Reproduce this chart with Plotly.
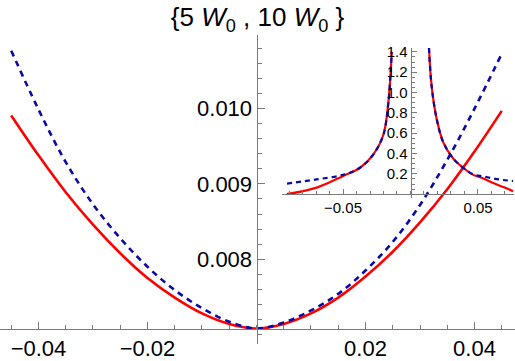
import plotly.graph_objects as go

# ---------------- main plot data ----------------
main_x = [-0.045, -0.04, -0.035, -0.03, -0.025, -0.02, -0.015, -0.01, -0.005, 0.0,
          0.005, 0.01, 0.015, 0.02, 0.025, 0.03, 0.035, 0.04, 0.045]
red_y = [0.00991, 0.00938, 0.00889, 0.00846, 0.00808, 0.00775, 0.00749, 0.00728, 0.00714, 0.00708,
         0.00714, 0.00728, 0.00749, 0.00777, 0.00810, 0.00849, 0.00893, 0.00943, 0.00997]
blue_y = [0.01077, 0.00999, 0.00929, 0.00873, 0.00828, 0.00790, 0.00759, 0.00735, 0.00717, 0.00708,
          0.00716, 0.00732, 0.00754, 0.00785, 0.00823, 0.00872, 0.00932, 0.01000, 0.01073]

main_xticks = [-0.04, -0.02, 0.02, 0.04]
main_xtext = ["\u22120.04", "\u22120.02", "0.02", "0.04"]
main_yticks = [0.008, 0.009, 0.010]
main_ytext = ["0.008", "0.009", "0.010"]

# ---------------- inset data ----------------
in_red_left_x = [-0.0917, -0.0695, -0.0498, -0.0374, -0.0276, -0.0202, -0.0164, -0.0139]
in_red_left_y = [0.0, 0.065, 0.18, 0.26, 0.39, 0.58, 0.90, 1.40]
in_red_right_x = [0.0137, 0.0157, 0.0194, 0.0243, 0.0317, 0.039, 0.0465, 0.054, 0.0613, 0.0688, 0.076]
in_red_right_y = [1.44, 1.06, 0.74, 0.51, 0.35, 0.26, 0.19, 0.155, 0.11, 0.07, 0.03]

in_blue_left_x = [-0.0915, -0.0695, -0.05, -0.0374, -0.0276, -0.0202, -0.0164, -0.0139]
in_blue_left_y = [0.105, 0.146, 0.19, 0.26, 0.39, 0.58, 0.90, 1.40]
in_blue_right_x = [0.0137, 0.0157, 0.0194, 0.0243, 0.0317, 0.039, 0.0465, 0.054, 0.0613, 0.0688, 0.076]
in_blue_right_y = [1.44, 1.06, 0.74, 0.51, 0.35, 0.26, 0.195, 0.175, 0.155, 0.14, 0.13]

inset_xticks = [-0.05, 0.05]
inset_xtext = ["\u22120.05", "0.05"]
inset_yticks = [0.2, 0.4, 0.6, 0.8, 1.0, 1.2, 1.4]
inset_ytext = ["0.2", "0.4", "0.6", "0.8", "1.0", "1.2", "1.4"]

RED = "#FF0000"
BLUE = "#0A0AA5"
AXC = "#7a7a7a"
FONT = "Liberation Sans, Arial, Helvetica, sans-serif"

fig = go.Figure()

# main curves
fig.add_trace(go.Scatter(x=main_x, y=red_y, mode="lines",
                         line=dict(color=RED, width=2.6, shape="spline", smoothing=1.0),
                         xaxis="x", yaxis="y"))
fig.add_trace(go.Scatter(x=main_x, y=blue_y, mode="lines",
                         line=dict(color=BLUE, width=2.6, dash="6px,5px", shape="spline", smoothing=1.0),
                         xaxis="x", yaxis="y"))

# inset curves
fig.add_trace(go.Scatter(x=in_red_left_x + [None] + in_red_right_x,
                         y=in_red_left_y + [None] + in_red_right_y,
                         mode="lines", line=dict(color=RED, width=2.2, shape="spline"),
                         connectgaps=False, xaxis="x2", yaxis="y2"))
fig.add_trace(go.Scatter(x=in_blue_left_x + [None] + in_blue_right_x,
                         y=in_blue_left_y + [None] + in_blue_right_y,
                         mode="lines", line=dict(color=BLUE, width=2.2, dash="5px,4px", shape="spline"),
                         connectgaps=False, xaxis="x2", yaxis="y2"))

W, H = 515, 361

def common(fsize):
    return dict(showgrid=False, zeroline=False, showline=True, linecolor=AXC, linewidth=1,
                ticks="inside", tickcolor=AXC, tickwidth=1,
                tickfont=dict(family=FONT, size=fsize, color="black"))

fig.update_layout(
    width=W, height=H,
    margin=dict(l=0, r=0, t=0, b=0),
    paper_bgcolor="white", plot_bgcolor="rgba(0,0,0,0)",
    showlegend=False,
    font=dict(family=FONT, color="black"),
    title=dict(text="{5 <i>W</i><sub>0</sub> , 10 <i>W</i><sub>0</sub> }",
               x=0.5, xanchor="center", y=1 - 17 / H, yanchor="middle",
               font=dict(family=FONT, size=26, color="black")),
    xaxis=dict(domain=[0, 1], range=[-0.04706, 0.04743], anchor="free", position=(H - 331) / H,
               tickmode="array", tickvals=main_xticks, ticktext=main_xtext, ticklen=7,
               minor=dict(ticks="inside", ticklen=4, dtick=0.005, tick0=0, tickcolor=AXC),
               **common(22)),
    yaxis=dict(domain=[(H - 347) / H, (H - 31) / H], range=[0.00687, 0.010974],
               anchor="free", position=256.5 / W, side="left",
               tickmode="array", tickvals=main_yticks, ticktext=main_ytext, ticklen=7,
               minor=dict(ticks="inside", ticklen=4, dtick=0.0002, tick0=0.007, tickcolor=AXC),
               **common(22)),
    xaxis2=dict(domain=[282 / W, 514 / W], range=[-0.0952, 0.0767], anchor="free",
                position=(H - 193.5) / H,
                tickmode="array", tickvals=inset_xticks, ticktext=inset_xtext, ticklen=5,
                minor=dict(ticks="inside", ticklen=3, dtick=0.01, tick0=0, tickcolor=AXC),
                **common(15)),
    yaxis2=dict(domain=[(H - 197.5) / H, (H - 44) / H], range=[-0.0385, 1.4375], anchor="free",
                position=410.5 / W, side="left",
                tickmode="array", tickvals=inset_yticks, ticktext=inset_ytext, ticklen=5,
                minor=dict(ticks="inside", ticklen=3, dtick=0.05, tick0=0, tickcolor=AXC),
                **common(15)),
)

fig.write_html("out.html", config={"displayModeBar": False},
               post_script="document.body.style.margin='0';document.body.style.overflow='hidden';")
